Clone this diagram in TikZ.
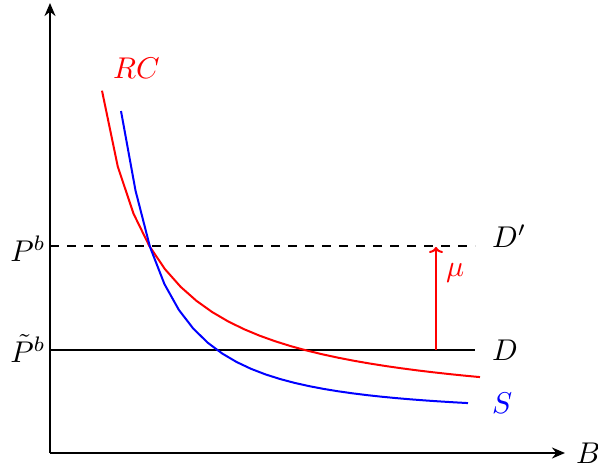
\documentclass[tikz,border=0pt]{standalone}
\usetikzlibrary{arrows.meta}
\newcommand{\lab}[1]{\scalebox{3.0}{$#1$}}
\tikzset{
  axis/.style={line width=2.2pt,-{Stealth[length=13pt,width=11pt]}},
  curve/.style={line width=2pt},
  lvl/.style={line width=2pt,black},
  lbl/.style={inner sep=0pt,anchor=base west},
}
\begin{document}
\begin{tikzpicture}[x=1pt,y=-1pt]
\useasboundingbox (0,0) rectangle (598,471);
\coordinate (O) at (50,453);
\coordinate (ytop) at (50,3);
\coordinate (xend) at (565,453);
\draw[axis] (O) -- (ytop);
\draw[axis] (O) -- (xend);
\node[lbl] (B) at (576,463) {\lab{B}};
% levels
\coordinate (P1) at (50,246);
\coordinate (P2) at (475,246);
\coordinate (Q1) at (50,350);
\coordinate (Q2) at (475,350);
\draw[lvl,dash pattern=on 9pt off 8pt] (P1) -- (P2);
\draw[lvl] (Q1) -- (Q2);
\node[inner sep=0pt,anchor=base east] (Pb) at (46,261) {\lab{P^b}};
\node[inner sep=0pt,anchor=base east] (Pt) at (46,362) {\lab{\tilde P^b}};
\node[lbl] (Dp) at (492,247) {\lab{D'}};
\node[lbl] (D) at (492,360) {\lab{D}};
% curves
\draw[curve,red] plot[domain=102:480,samples=25] (\x,{453-36.5-169.4/((\x-50)/100)});
\draw[curve,blue] (121,111) -- plot[domain=135.5:468,samples=24] (\x,{415-168/(((\x-50)/100)^1.85)});
\node[lbl,red] (RC) at (113,78) {\lab{RC}};
\node[lbl,blue] (S) at (492,413) {\lab{S}};
% mu arrow
\coordinate (m1) at (436,350);
\coordinate (m2) at (436,247);
\draw[red,line width=2pt,-{To[length=6pt,width=14pt]}] (m1) -- (m2);
\node[lbl,red] (mu) at (446,276) {\lab{\mu}};
\end{tikzpicture}
\end{document}
